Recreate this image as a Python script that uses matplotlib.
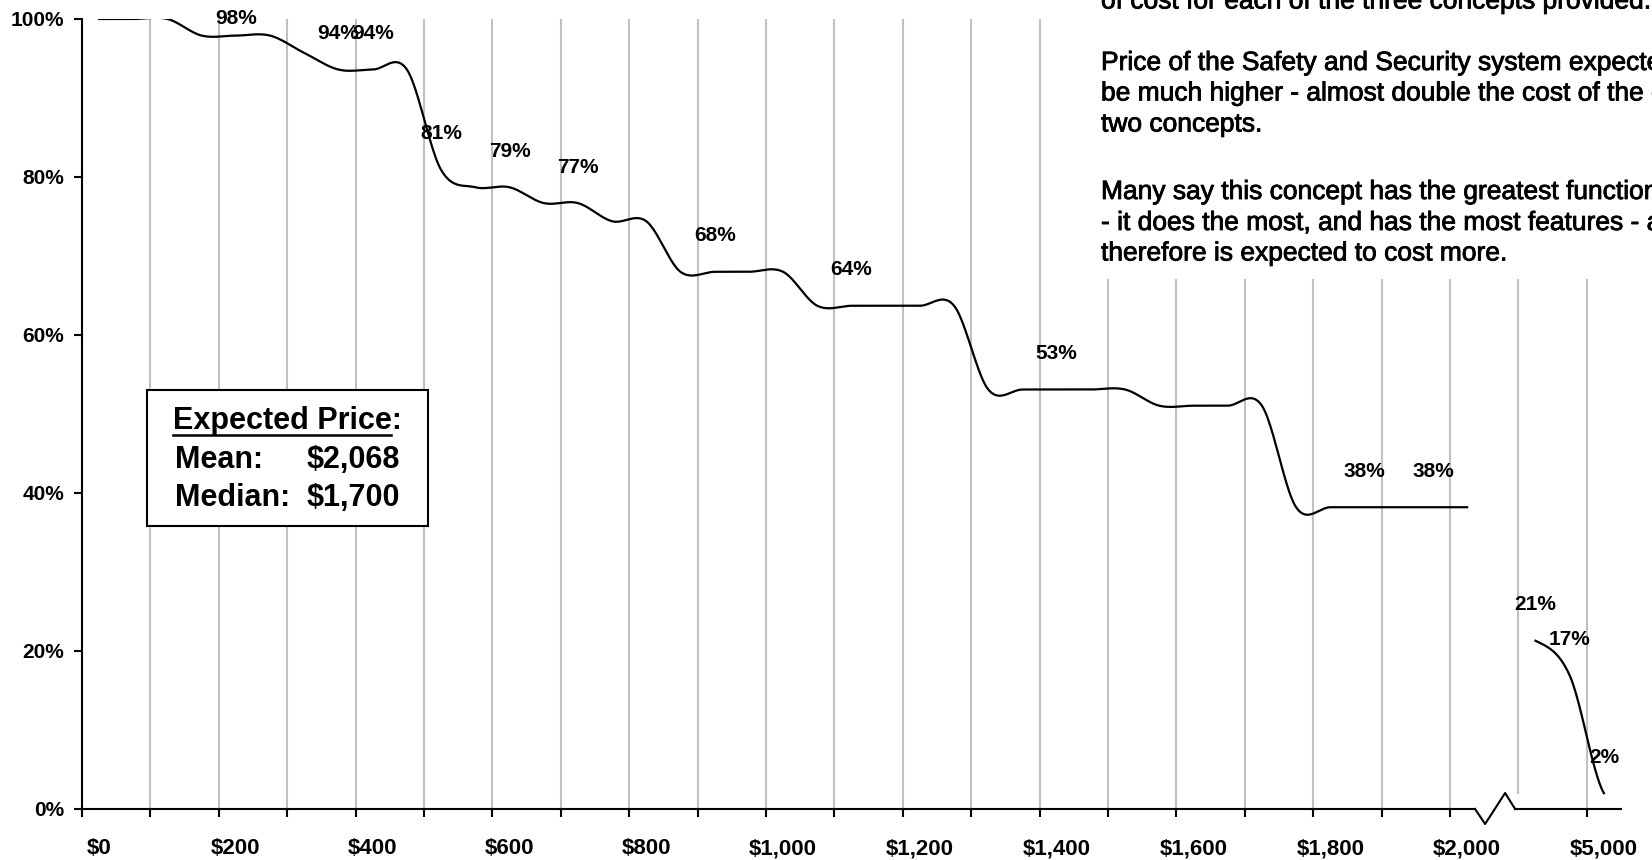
import numpy as np
import matplotlib
matplotlib.use('Agg')
import matplotlib.pyplot as plt
import matplotlib.patheffects as pe
from matplotlib.patches import Rectangle
from matplotlib.lines import Line2D

plt.rcParams['font.family'] = ['Liberation Sans', 'DejaVu Sans']

W, H = 1652, 860

# categories ($50 steps, then a break, then the high-price tail)
price_labels = ['$0', '$50', '$100', '$150', '$200', '$250', '$300', '$350', '$400', '$450',
                '$500', '$550', '$600', '$650', '$700', '$750', '$800', '$850', '$900', '$950',
                '$1,000', '$1,050', '$1,100', '$1,150', '$1,200', '$1,250', '$1,300', '$1,350',
                '$1,400', '$1,450', '$1,500', '$1,550', '$1,600', '$1,650', '$1,700', '$1,750',
                '$1,800', '$1,850', '$1,900', '$1,950', '$2,000', '', '$2,500', '$3,000', '$5,000']

# % willing to pay at least that price
pct = [100.0, 100.0, 100.0, 97.9, 97.9, 97.9, 95.7, 93.6, 93.6, 93.6,
       80.9, 78.7, 78.7, 76.7, 76.7, 74.4, 74.4, 68.0, 68.0, 68.0,
       68.0, 63.7, 63.7, 63.7, 63.7, 63.7, 53.1, 53.1, 53.1, 53.1,
       53.1, 51.05, 51.05, 51.05, 51.05, 38.2, 38.2, 38.2, 38.2, 38.2,
       38.2, np.nan, 21.3, 16.9, 2.0]

labelled = [4, 7, 8, 10, 12, 14, 18, 22, 28, 37, 39, 42, 43, 44]

note_lines = [
    'of cost for each of the three concepts provided.',
    'Price of the Safety and Security system expected to',
    'be much higher - almost double the cost of the other',
    'two concepts.',
    'Many say this concept has the greatest functionality',
    '- it does the most, and has the most features - and',
    'therefore is expected to cost more.',
]
note_baselines = [8.5, 70, 100.5, 131.5, 199, 230, 260.5]


def smooth(xs, ys, n=24):
    # excel-like smoothed line (catmull-rom)
    xs = np.asarray(xs, float)
    ys = np.asarray(ys, float)
    m = np.empty_like(ys)
    m[1:-1] = (ys[2:] - ys[:-2]) / 2
    m[0] = (ys[1] - ys[0]) / 2
    m[-1] = (ys[-1] - ys[-2]) / 2
    t = np.linspace(0, 1, n, endpoint=False)
    h00 = 2 * t**3 - 3 * t**2 + 1
    h10 = t**3 - 2 * t**2 + t
    h01 = -2 * t**3 + 3 * t**2
    h11 = t**3 - t**2
    ox, oy = [], []
    for k in range(len(ys) - 1):
        ox.append(xs[k] + t * (xs[k + 1] - xs[k]))
        oy.append(h00 * ys[k] + h10 * m[k] + h01 * ys[k + 1] + h11 * m[k + 1])
    ox.append([xs[-1]])
    oy.append([ys[-1]])
    return np.concatenate(ox), np.concatenate(oy)


def fx(px):
    return px / W


def fy(py):
    return 1 - py / H


fig = plt.figure(figsize=(W / 100, H / 100), dpi=100)
ax = fig.add_axes([fx(82), fy(809), (1621 - 82) / W, (809 - 19) / H])
ax.set_xlim(-0.5, 44.5)
ax.set_ylim(0, 100)

x = np.arange(len(pct))
y = np.array(pct)
# split at the break
seg = []
for k in range(len(y)):
    if np.isnan(y[k]):
        if seg:
            sx, sy = smooth(x[seg], y[seg])
            ax.plot(sx, sy, color='black', lw=1.6, zorder=3)
        seg = []
    else:
        seg.append(k)
if seg:
    sx, sy = smooth(x[seg], y[seg])
    ax.plot(sx, sy, color='black', lw=1.6, zorder=3)

# vertical gridlines between pairs of categories
for g in np.arange(1.5, 44, 2):
    ybot = 2 if g == 41.5 else 0
    ax.plot([g, g], [ybot, 100], color='#c0c0c0', lw=1.5, zorder=1)

# data labels
for k in labelled:
    off_px = min(36, (100 - pct[k]) * 7.9)
    ax.annotate(f'{round(pct[k])}%', (k, pct[k]), xytext=(0, off_px * 0.72),
                textcoords='offset points', ha='center', va='center',
                fontsize=15, fontweight='bold', zorder=4, annotation_clip=False)

# axes styling
for s in ['top', 'right', 'bottom']:
    ax.spines[s].set_visible(False)
ax.spines['left'].set_linewidth(1.5)

major = [p for p in np.arange(-0.5, 44, 2) if p != 41.5]
ax.set_xticks(major)
ax.set_xticklabels([''] * len(major))
ax.set_xticks(range(0, 45, 4), minor=True)
ax.set_xticklabels(price_labels[::4], minor=True)
ax.tick_params(axis='x', which='major', length=6, width=1.5, direction='out')
ax.tick_params(axis='x', which='minor', length=0, pad=21, labelsize=16)
plt.setp(ax.get_xticklabels(minor=True), fontweight='bold')

ax.set_yticks([0, 20, 40, 60, 80, 100])
ax.set_yticklabels(['0%', '20%', '40%', '60%', '80%', '100%'])
ax.tick_params(axis='y', length=6, width=1.5, pad=7, labelsize=15)
plt.setp(ax.get_yticklabels(), fontweight='bold')


def ix(px):
    return (px - 99) / 34.2


def iy(py):
    return (809 - py) / 7.9


# bottom axis with break symbol
ax.plot([-0.5, ix(1475)], [0, 0], color='black', lw=1.5, clip_on=False, zorder=3)
ax.plot([ix(1515), 44.5], [0, 0], color='black', lw=1.5, clip_on=False, zorder=3)
ax.plot([ix(1475), ix(1485), ix(1505), ix(1515)], [0, iy(824), iy(793), 0],
        color='black', lw=1.5, clip_on=False, zorder=3)

# note text box (top right)
fig.add_artist(Rectangle((fx(1088), fy(279)), 1 - fx(1088), 279 / H,
                         transform=fig.transFigure, facecolor='white',
                         edgecolor='none', zorder=5))
thick = [pe.withStroke(linewidth=0.6, foreground='black')]
for line, b in zip(note_lines, note_baselines):
    fig.text(fx(1101), fy(b), line, ha='left', va='baseline', fontsize=19, zorder=6,
             path_effects=thick)

# expected price box
fig.add_artist(Rectangle((fx(147), fy(526)), (428 - 147) / W, (526 - 390) / H,
                         transform=fig.transFigure, facecolor='white',
                         edgecolor='black', lw=1.5, zorder=5))
t1 = fig.text(fx(287), fy(429), 'Expected Price:', ha='center', va='baseline',
              fontsize=22, fontweight='bold', zorder=6)
fig.text(fx(175), fy(468), 'Mean:', ha='left', va='baseline', fontsize=22, fontweight='bold', zorder=6)
fig.text(fx(400), fy(468), '$2,068', ha='right', va='baseline', fontsize=22, fontweight='bold', zorder=6)
fig.text(fx(175), fy(506), 'Median:', ha='left', va='baseline', fontsize=22, fontweight='bold', zorder=6)
fig.text(fx(400), fy(506), '$1,700', ha='right', va='baseline', fontsize=22, fontweight='bold', zorder=6)

fig.canvas.draw()
r = fig.canvas.get_renderer()
bb = t1.get_window_extent(r)
tmp = fig.text(0, 0, 'Expected Price', fontsize=22, fontweight='bold')
w2 = tmp.get_window_extent(r).width
tmp.remove()
fig.add_artist(Line2D([bb.x0 / W, (bb.x0 + w2) / W], [fy(435), fy(435)],
                      transform=fig.transFigure, color='black', lw=1.8, zorder=6))

fig.savefig('out.png', dpi=100)
